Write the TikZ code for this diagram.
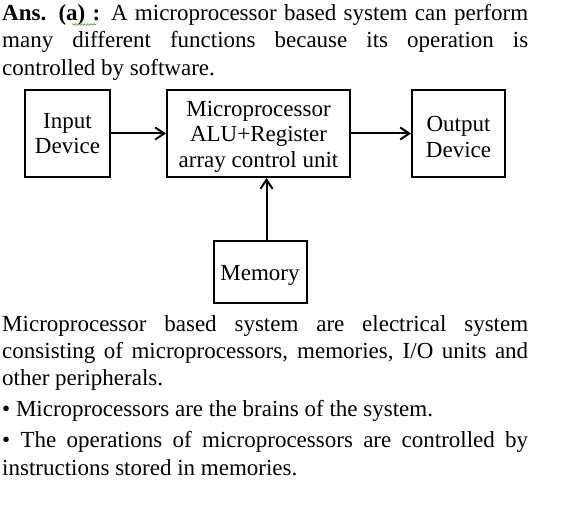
\documentclass[tikz,border=0pt]{standalone}
\usepackage{fontspec}
\setmainfont{Liberation Serif}
\usetikzlibrary{arrows.meta,decorations.pathmorphing}
\definecolor{spellgreen}{RGB}{96,150,60}
\begin{document}
\begin{tikzpicture}[x=1pt,y=-1pt,
  box/.style={draw,line width=2pt,align=center,inner sep=0pt,
    font=\fontsize{23}{25.5}\selectfont},
  txt/.style={anchor=base west,inner sep=0pt,font=\fontsize{23}{28}\selectfont},
  conn/.style={-{Straight Barb[length=9pt,width=12pt]},line width=2pt}]
\useasboundingbox (0,0) rectangle (571,526);
% top paragraph
\node[txt] (t1) at (2,20.5) {\makebox[526pt][s]{\textbf{Ans. (a) :} A microprocessor based system can perform}};
\node[txt] (t2) at (2,48) {\makebox[526pt][s]{many different functions because its operation is}};
\node[txt] (t3) at (2,76) {controlled by software.};
\coordinate (sq1) at (72,24.5);
\coordinate (sq2) at (96,24.5);
\draw[spellgreen,line width=0.6pt,decorate,decoration={snake,amplitude=0.9pt,segment length=3pt}] (sq1) -- (sq2);
% diagram
\node[box,minimum width=85pt,minimum height=87pt] (in) at (67.5,133.5) {Input\\Device};
\node[box,minimum width=183pt,minimum height=87pt] (mic) at (258.5,133.5) {\rule{0pt}{21pt}Microprocessor\\ALU+Register\\array control unit};
\node[box,minimum width=93pt,minimum height=87pt] (out) at (458.5,133.5) {\rule{0pt}{22pt}Output\\Device};
\node[box,minimum width=93pt,minimum height=62pt] (mem) at (260,272) {\rule{0pt}{21pt}Memory};
\draw[conn] (in) -- (mic);
\draw[conn] (mic) -- (out);
\draw[conn] ([xshift=6.5pt]mem.north) -- ([xshift=8pt]mic.south);
% bottom paragraph
\node[txt] (b1) at (2,332) {\makebox[526pt][s]{Microprocessor based system are electrical system}};
\node[txt] (b2) at (2,359) {\makebox[526pt][s]{consisting of microprocessors, memories, I/O units and}};
\node[txt] (b3) at (2,386) {other peripherals.};
\node[txt] (b4) at (2,417) {• Microprocessors are the brains of the system.};
\node[txt] (b5) at (2,448) {\makebox[526pt][s]{• The operations of microprocessors are controlled by}};
\node[txt] (b6) at (2,476) {instructions stored in memories.};
\end{tikzpicture}
\end{document}
